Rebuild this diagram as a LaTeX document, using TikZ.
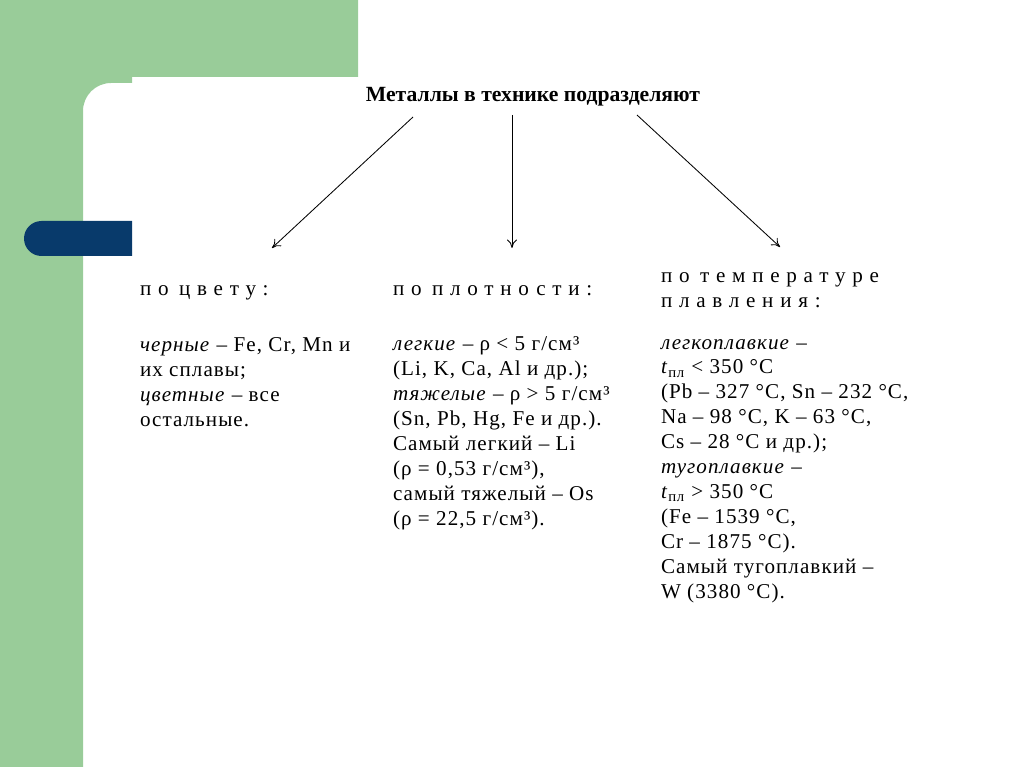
\documentclass[tikz,border=0pt]{standalone}
\usepackage{fontspec}
\setmainfont[LetterSpace=5]{Liberation Serif}
\newfontfamily\spacedfont[LetterSpace=32]{Liberation Serif}
\newfontfamily\titlefont{Liberation Serif}
\usepackage{xcolor}
\usepackage{tikz}
\usetikzlibrary{positioning,arrows.meta}
\definecolor{sidegreen}{RGB}{153,204,153}
\definecolor{tabnavy}{RGB}{8,58,107}
\newcommand{\tpl}{\textit{t}\textsubscript{пл}}

\begin{document}
\begin{tikzpicture}[x=0.025cm,y=-0.025cm,
  every node/.style={inner sep=0pt,outer sep=0pt},
  lbl/.style={anchor=base west,align=left,font=\fontsize{15}{17.7}\selectfont},
  hdr/.style={anchor=base west,align=left,font=\spacedfont\fontsize{15}{17.7}\selectfont},
  arr/.style={->,>={To[length=6pt,width=7pt]},line width=0.6pt}]
\useasboundingbox (0,0) rectangle (1024,767);
% frame
\fill[sidegreen] (0,0) -- (358,0) -- (358,77) -- (132,77) -- (132,83) -- (111,83)
  arc[start angle=270,end angle=180,radius=28] -- (83,767) -- (0,767) -- cycle;
\fill[tabnavy] (132,221) -- (41.5,221) arc[start angle=270,end angle=90,radius=17.5]
  -- (132,256) -- cycle;
% title and arrows
\node[font=\titlefont\bfseries\fontsize{15.4}{17}\selectfont,anchor=base] (title) at (533,102) {Металлы в технике подразделяют};
\coordinate (s1) at (413,117);
\coordinate (s2) at (512,115);
\coordinate (s3) at (637,115);
\coordinate (e1) at (272,248);
\coordinate (e2) at (512,248);
\coordinate (e3) at (780,247);
\draw[arr] (s1) -- (e1);
\draw[arr] (s2) -- (e2);
\draw[arr] (s3) -- (e3);
% colour (base = last line)
\node[hdr] (hcolour) at (140,295) {по\enspace цвету:};
\node[lbl] (colour) at (140,426) {\textit{черные} – Fe, Cr, Mn и\\их сплавы;\\\textit{цветные} – все\\остальные.};
% density
\node[hdr] (hdensity) at (393,295) {по\enspace плотности:};
\node[lbl] (density) at (393,525) {\textit{легкие} – ρ < 5 г/см³\\(Li, K, Ca, Al и др.);\\\textit{тяжелые} – ρ > 5 г/см³\\(Sn, Pb, Hg, Fe и др.).\\Самый легкий – Li\\(ρ = 0,53 г/см³),\\самый тяжелый – Os\\(ρ = 22,5 г/см³).};
% melting
\node[hdr] (hmelting) at (661,307) {по\enspace температуре\\плавления:};
\node[lbl] (melting) at (661,598) {\textit{легкоплавкие} –\\\tpl{} < 350 °C\\(Pb – 327 °C, Sn – 232 °C,\\Na – 98 °C, K – 63 °C,\\Cs – 28 °C и др.);\\\textit{тугоплавкие} –\\\tpl{} > 350 °C\\(Fe – 1539 °C,\\Cr – 1875 °C).\\Самый тугоплавкий –\\W (3380 °C).};
\end{tikzpicture}
\end{document}
